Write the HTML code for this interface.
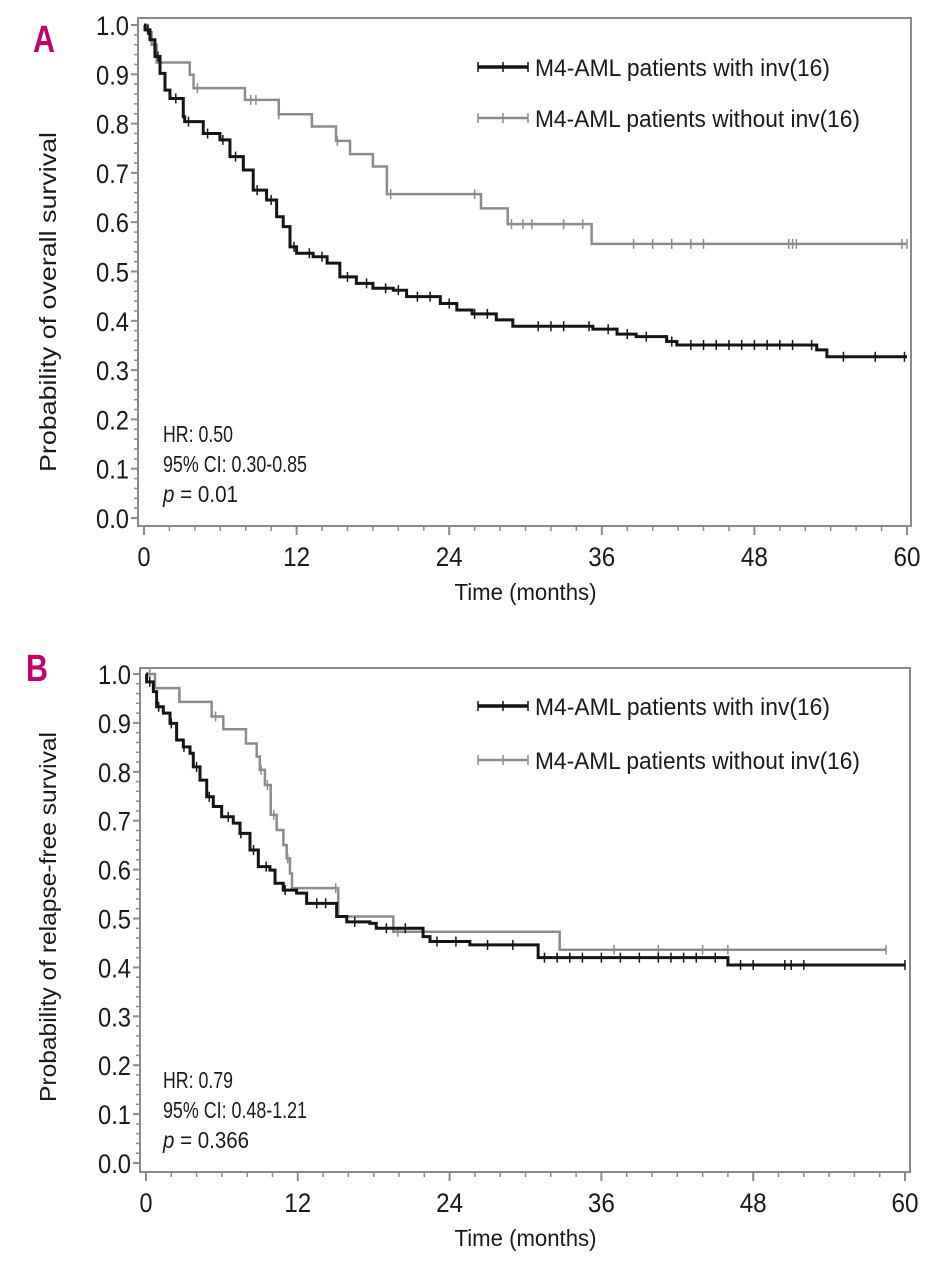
<!DOCTYPE html>
<html><head><meta charset="utf-8"><style>
html,body{margin:0;padding:0;background:#fff;}
svg{display:block;}
text{font-family:"Liberation Sans Narrow","Liberation Sans",sans-serif;fill:#1a1a1a;}
</style></head><body>
<svg id="chart" width="944" height="1280" viewBox="0 0 944 1280" xmlns="http://www.w3.org/2000/svg">
<g id="pA"></g>
<g id="pB"></g>
</svg>
<script>
const xTicks = [0, 12, 24, 36, 48, 60];
const yTicks = [0.0, 0.1, 0.2, 0.3, 0.4, 0.5, 0.6, 0.7, 0.8, 0.9, 1.0];
const seriesNames = ["M4-AML patients with inv(16)", "M4-AML patients without inv(16)"];
// Panel A: overall survival (time, survival)
const aWithT = [0,0.08,0.47,0.86,1.26,1.65,2.04,3.09,3.2,4.66,5.97,6.76,7.81,8.59,9.64,10.43,10.95,11.48,12.0,13.3,14.4,15.4,16.7,18.0,19.6,20.65,23.3,24.6,25.8,27.7,29.0,35.3,37.2,38.7,41.1,41.9,52.9,53.7,60];
const aWithS = [1.0,0.99,0.97,0.936,0.902,0.868,0.851,0.814,0.804,0.78,0.767,0.733,0.706,0.665,0.645,0.611,0.591,0.55,0.537,0.53,0.517,0.489,0.476,0.466,0.462,0.449,0.435,0.422,0.414,0.402,0.389,0.383,0.373,0.368,0.358,0.351,0.341,0.327,0.327];
const aWithoutT = [0,0.3,0.6,1.0,3.6,3.9,7.94,10.6,13.2,15.1,16.2,18.0,19.1,26.5,28.6,35.2,60];
const aWithoutS = [1.0,0.985,0.96,0.924,0.899,0.872,0.848,0.819,0.794,0.765,0.738,0.713,0.657,0.628,0.596,0.556,0.556];
const aWithCens = [0.3,1.1,2.5,3.5,5,6.2,7.2,8.9,10,11.8,13,14,16,17.5,19,20,21.5,22.5,24,26,27,31,32,33,35,36.5,38,39.5,41.5,43,44,45,46,47,48,49,50,51,52.5,55,57.5,59.8];
const aWithoutCens = [4.2,8.4,8.8,10.6,15.2,19.4,26,28.9,29.8,30.5,33,34.5,38.5,40,41.5,43,44,50.7,51,51.3,59.6,60];
const aStats = ["HR: 0.50", "95% CI: 0.30-0.85", "0.01"];
// Panel B: relapse-free survival
const bWithT = [0,0.05,0.58,0.84,1.37,1.9,2.42,2.95,3.48,3.74,4.27,4.8,5.32,5.98,6.9,7.43,8.22,8.88,9.8,10.2,10.85,11.9,12.7,15.07,15.87,17.7,18.2,21.9,22.45,25.6,31.0,46.0,60];
const bWithS = [1.0,0.984,0.964,0.933,0.92,0.899,0.865,0.851,0.838,0.81,0.783,0.749,0.729,0.708,0.695,0.674,0.64,0.606,0.599,0.572,0.558,0.552,0.531,0.504,0.493,0.49,0.48,0.463,0.453,0.446,0.42,0.405,0.405];
const bWithoutT = [0,0.71,2.64,5.19,6.11,7.9,8.75,9.0,9.4,9.86,10.33,10.86,11.12,11.38,11.54,15.2,19.55,32.7,58.5];
const bWithoutS = [1.0,0.971,0.943,0.913,0.887,0.858,0.831,0.804,0.773,0.712,0.681,0.65,0.623,0.592,0.562,0.504,0.473,0.436,0.436];
const bWithCens = [0.3,1.0,2.0,3.0,4.0,5.0,6.5,7.5,8.5,9.5,11,13.5,14.2,16.5,19,20.5,23,24.5,27,29,31.5,32.5,33.5,34.5,36,37.5,39,40.5,41.5,42.5,43.5,45,47,48,50.5,51,52,60];
const bWithoutCens = [0.3,5.5,9.1,9.6,10.1,11.2,15.0,19.9,37,40.5,44,46,58.5];
const bStats = ["HR: 0.79", "95% CI: 0.48-1.21", "0.366"];

const NS = "http://www.w3.org/2000/svg";
function mk(parent, tag, attrs) {
  const el = document.createElementNS(NS, tag);
  for (const k in attrs) el.setAttribute(k, attrs[k]);
  parent.appendChild(el);
  return el;
}
function panel(g, cfg) {
  const sx = t => cfg.x0 + (cfg.x60 - cfg.x0) * t / 60;
  const sy = s => cfg.y0 - (cfg.y0 - cfg.y1) * s;
  const frame = mk(g, 'rect', {x: cfg.L, y: cfg.T, width: cfg.R - cfg.L, height: cfg.B - cfg.T, fill: 'none', stroke: '#8a8a8a', 'stroke-width': 2});
  
  
  const yax = mk(g, 'g', {});
  
  
  for (let i = 0; i <= 50; i++) {
    const v = i / 50;
    const y = sy(v);
    const major = i % 5 === 0;
    mk(yax, 'line', {x1: cfg.L - (major ? 7 : 4), x2: cfg.L, y1: y, y2: y, stroke: '#8a8a8a', 'stroke-width': major ? 2 : 1.5});
  }
  yTicks.forEach(v => {
    const t = mk(yax, 'text', {x: cfg.L - 42, y: sy(v) + 10, 'font-size': 27, textLength: 33, lengthAdjust: 'spacingAndGlyphs'});
    
    
    t.textContent = v.toFixed(1);
  });
  const xax = mk(g, 'g', {});
  
  
  for (let m = 0; m <= 60; m += 2) {
    const x = sx(m);
    const major = m % 12 === 0;
    mk(xax, 'line', {x1: x, x2: x, y1: cfg.B, y2: cfg.B + (major ? 9 : 5), stroke: '#8a8a8a', 'stroke-width': major ? 2 : 1.5});
  }
  xTicks.forEach(v => {
    const w = String(v).length === 1 ? 13 : 27;
    const t = mk(xax, 'text', {x: sx(v) - w / 2, y: cfg.B + 40, 'font-size': 27, textLength: w, lengthAdjust: 'spacingAndGlyphs'});
    
    
    t.textContent = v;
  });
  const xt = mk(g, 'text', {x: (sx(0) + sx(60)) / 2 - 71, y: cfg.B + 74, 'font-size': 23, textLength: 142, lengthAdjust: 'spacingAndGlyphs'});
  
  
  xt.textContent = 'Time (months)';
  const yt = mk(g, 'text', {x: -cfg.ytLen / 2, y: 0, 'font-size': 23, textLength: cfg.ytLen, lengthAdjust: 'spacingAndGlyphs', transform: 'translate(56,' + cfg.ytY + ') rotate(-90)'});
  
  
  yt.textContent = cfg.ytitle;
  const lt = mk(g, 'text', {x: cfg.letX, y: cfg.letY, 'font-size': 38, 'font-weight': 'bold', textLength: 22, lengthAdjust: 'spacingAndGlyphs', style: 'fill:#c2006e;font-family:"Liberation Sans Narrow","Liberation Sans",sans-serif'});
  
  
  lt.textContent = cfg.letter;

  function stepPath(T, S) {
    let d = 'M' + sx(T[0]) + ' ' + sy(S[0]);
    for (let i = 1; i < T.length; i++) {
      d += ' H' + sx(T[i]) + ' V' + sy(S[i]);
    }
    return d;
  }
  function valAt(T, S, t) {
    let v = S[0];
    for (let i = 0; i < T.length; i++) if (T[i] <= t) v = S[i];
    return v;
  }
  function curve(T, S, C, color, w, name) {
    const cg = mk(g, 'g', {});
    
    
    mk(cg, 'path', {d: stepPath(T, S), fill: 'none', stroke: color, 'stroke-width': w});
    C.forEach(t => {
      const y = sy(valAt(T, S, t));
      const m = mk(cg, 'line', {x1: sx(t), x2: sx(t), y1: y - 5, y2: y + 5, stroke: color, 'stroke-width': 1.5});
      
      
    });
  }
  curve(cfg.woT, cfg.woS, cfg.woC, '#8c8c8c', 2.5, 'series-without-inv16');
  curve(cfg.wT, cfg.wS, cfg.wC, '#141414', 3, 'series-with-inv16');
  const leg = mk(g, 'g', {});
  
  
  [[cfg.legY1, '#141414', 3.5], [cfg.legY2, '#8c8c8c', 2.5]].forEach((e, i) => {
    const eg = mk(leg, 'g', {});
    
    
    mk(eg, 'line', {x1: 478, x2: 528, y1: e[0], y2: e[0], stroke: e[1], 'stroke-width': e[2]});
    [478, 503, 528].forEach(x => mk(eg, 'line', {x1: x, x2: x, y1: e[0] - 5, y2: e[0] + 5, stroke: e[1], 'stroke-width': 1.5}));
    const tx = mk(eg, 'text', {x: 535, y: e[0] + 9, 'font-size': 24, textLength: i === 0 ? 295 : 325, lengthAdjust: 'spacingAndGlyphs'});
    tx.textContent = seriesNames[i];
  });
  const st = mk(g, 'g', {});
  
  
  const t1 = mk(st, 'text', {x: 163, y: cfg.stY, 'font-size': 23, textLength: 70, lengthAdjust: 'spacingAndGlyphs'}); t1.textContent = cfg.stats[0];
  const t2 = mk(st, 'text', {x: 163, y: cfg.stY + 30, 'font-size': 23, textLength: 144, lengthAdjust: 'spacingAndGlyphs'}); t2.textContent = cfg.stats[1];
  const t3 = mk(st, 'text', {x: 163, y: cfg.stY + 60, 'font-size': 23, textLength: cfg.pLen, lengthAdjust: 'spacingAndGlyphs'});
  const ip = mk(t3, 'tspan', {'font-style': 'italic'}); ip.textContent = 'p';
  const rest = mk(t3, 'tspan', {}); rest.textContent = ' = ' + cfg.stats[2];
}
panel(document.getElementById('pA'), {
  L: 138, T: 18, R: 911, B: 526, x0: 144, x60: 907, y0: 518, y1: 25,
  letter: 'A', letX: 33, letY: 52, ytitle: 'Probability of overall survival', ytY: 302, ytLen: 340,
  legY1: 67, legY2: 118, stY: 442, pLen: 75, stats: aStats,
  wT: aWithT, wS: aWithS, wC: aWithCens, woT: aWithoutT, woS: aWithoutS, woC: aWithoutCens
});
panel(document.getElementById('pB'), {
  L: 140, T: 668, R: 910, B: 1172, x0: 146, x60: 905, y0: 1163, y1: 674,
  letter: 'B', letX: 26, letY: 681, ytitle: 'Probability of relapse-free survival', ytY: 917, ytLen: 370,
  legY1: 706, legY2: 760, stY: 1088, pLen: 86, stats: bStats,
  wT: bWithT, wS: bWithS, wC: bWithCens, woT: bWithoutT, woS: bWithoutS, woC: bWithoutCens
});
</script>
</body></html>
